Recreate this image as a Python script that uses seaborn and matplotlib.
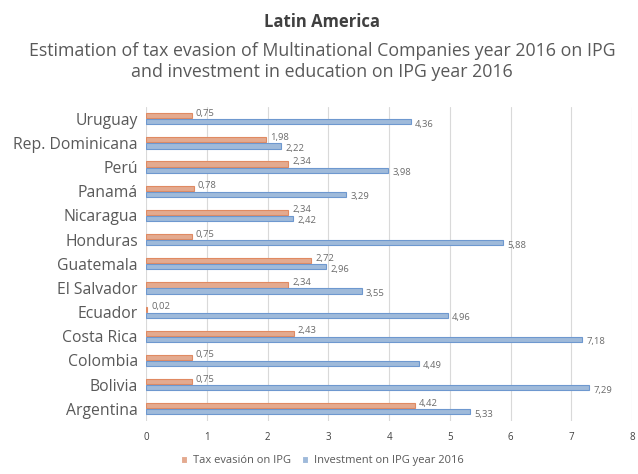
import matplotlib
matplotlib.use("Agg")
import matplotlib.pyplot as plt
import seaborn as sns
import pandas as pd

countries = ["Uruguay", "Rep. Dominicana", "Perú", "Panamá", "Nicaragua", "Honduras",
             "Guatemala", "El Salvador", "Ecuador", "Costa Rica", "Colombia", "Bolivia",
             "Argentina"]
tax_evasion = [0.75, 1.98, 2.34, 0.78, 2.34, 0.75, 2.72, 2.34, 0.02, 2.43, 0.75, 0.75, 4.42]
investment = [4.36, 2.22, 3.98, 3.29, 2.42, 5.88, 2.96, 3.55, 4.96, 7.18, 4.49, 7.29, 5.33]
series_names = ["Tax evasión on IPG", "Investment on IPG year 2016"]
x_ticks = [0, 1, 2, 3, 4, 5, 6, 7, 8]

df = pd.DataFrame({
    "country": countries * 2,
    "value": tax_evasion + investment,
    "series": [series_names[0]] * len(countries) + [series_names[1]] * len(countries),
})

sns.set_theme(style="white")
plt.rcParams["font.family"] = ["Open Sans", "DejaVu Sans"]

fig = plt.figure(figsize=(6.38, 4.74), dpi=100)
ax = fig.add_axes([0.229, 0.112, 0.762, 0.663])

fill = ["#F2A581", "#95B9E4"]
edge = ["#E08A62", "#6E98CF"]
sns.barplot(data=df, y="country", x="value", hue="series", order=countries,
            hue_order=series_names, palette=fill, width=0.5, gap=0.15,
            orient="h", ax=ax, legend=True, linewidth=0.8)

offsets = [1.8, -1.8]
for i, cont in enumerate(ax.containers):
    for p in cont.patches:
        p.set_edgecolor(edge[i])
    labels = [f"{v:.2f}".replace(".", ",") for v in cont.datavalues]
    anns = ax.bar_label(cont, labels=labels, padding=3, fontsize=6.8, color="#6b6b6b")
    for a in anns:
        a.xyann = (3, offsets[i])

ax.set_xlim(0, 8)
ax.set_xticks(x_ticks)
ax.set_xticklabels([str(t) for t in x_ticks], fontsize=7, color="#404040")
ax.tick_params(axis="y", labelsize=11.3, labelcolor="#595959", length=0, pad=6)
ax.tick_params(axis="x", length=0, pad=8)
ax.set_xlabel("")
ax.set_ylabel("")
ax.grid(axis="x", color="#d9d9d9", linewidth=0.8)
ax.set_axisbelow(True)
for s in ax.spines.values():
    s.set_visible(False)

leg = ax.legend(loc="center", bbox_to_anchor=(0.505, 0.028), bbox_transform=fig.transFigure,
                ncol=2, frameon=False,
                fontsize=8, handlelength=0.55, handleheight=0.55, columnspacing=1.0,
                handletextpad=0.5, labelcolor="#595959")

fig.text(0.505, 0.953, "Latin America", ha="center", va="center", fontsize=12,
         fontweight="bold", color="#404040")
fig.text(0.505, 0.87, "Estimation of tax evasion of Multinational Companies year 2016 on IPG\n"
         "and investment in education on IPG year 2016", ha="center", va="center",
         fontsize=12.8, color="#595959", linespacing=1.25)

fig.savefig("out.png", dpi=100)
